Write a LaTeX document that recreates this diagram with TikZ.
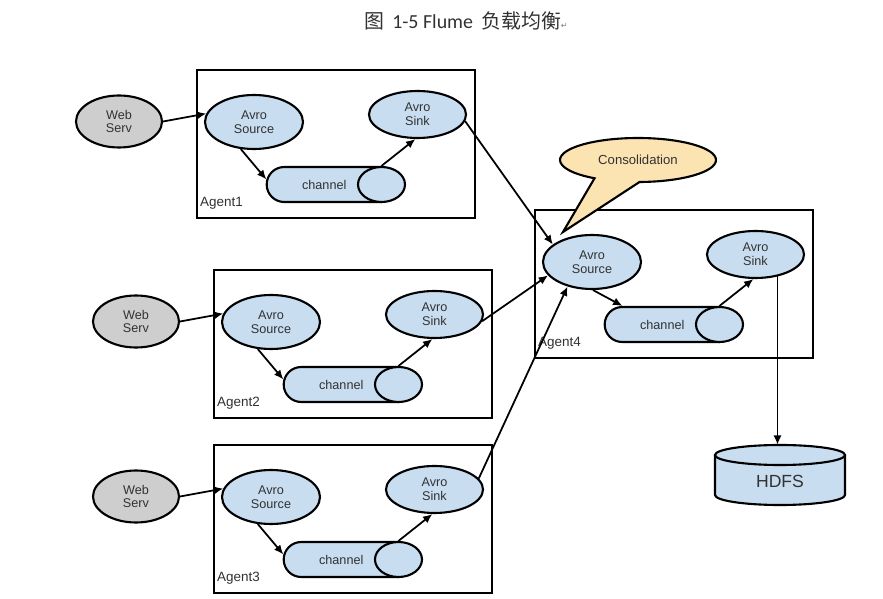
\documentclass[tikz,border=0pt]{standalone}
\usepackage{fontspec}
\setmainfont{Liberation Sans}
\newfontfamily\cjkfont{Noto Sans CJK SC}
\newfontfamily\carlfont{Carlito}
\newfontfamily\symfont{DejaVu Sans}
\usetikzlibrary{shapes.geometric,shapes.misc,shapes.callouts,arrows.meta}
\definecolor{avro}{RGB}{200,221,240}
\definecolor{websv}{RGB}{206,206,206}
\definecolor{cons}{RGB}{252,228,178}
\definecolor{txt}{RGB}{50,50,50}
\tikzset{
  shp/.style={draw=black, line width=1.8pt},
  lbl/.style={text=txt, font=\fontsize{10.8}{11.8}\selectfont, align=center, inner sep=0pt},
  web/.style={shp, lbl, ellipse, fill=websv, minimum width=2.58cm, minimum height=1.56cm},
  src/.style={shp, lbl, ellipse, fill=avro, minimum width=2.94cm, minimum height=1.62cm},
  snk/.style={shp, lbl, ellipse, fill=avro, minimum width=2.91cm, minimum height=1.41cm},
  chan/.style={shp, lbl, rounded rectangle, rounded rectangle east arc=none, fill=avro, minimum width=3.435cm, minimum height=1.05cm},
  chend/.style={shp, ellipse, fill=avro, minimum width=1.41cm, minimum height=1.05cm, inner sep=0pt},
  agentbox/.style={draw=black, line width=1.8pt, rectangle, minimum width=8.34cm, minimum height=4.44cm, inner sep=0pt},
  agentlbl/.style={text=txt, font=\fontsize{11.5}{13}\selectfont, inner sep=0pt, anchor=base west},
  arr/.style={draw=black, line width=1.5pt, -{Latex[length=8pt,width=7pt]}},
}
\newcommand\agentgroup[3]{%
  \begin{scope}[shift={(#2,#3)}]
    \node[agentbox] (a#1) at (336,144) {};
    \node[agentlbl] (l#1) at (200,207) {Agent#1};
    \node[src] (s#1) at (254,122) {Avro\\Source};
    \node[snk] (k#1) at (417.5,114.5) {Avro\\Sink};
    \node[chan] (c#1) at (324.25,184.5) {channel};
    \node[chend] (e#1) at (381.5,184.5) {};
    \draw[arr] (e#1.north) -- (k#1.-95);
  \end{scope}}
\begin{document}
\begin{tikzpicture}[x=0.03cm,y=-0.03cm]
\useasboundingbox[fill=white] (0,0) rectangle (883,599);
% title
\node[text=txt, inner sep=0pt] (title) at (466,21) {\fontsize{17}{19}\selectfont\cjkfont 图\hspace{7pt}\carlfont 1-5 Flume\hspace{7pt}\cjkfont 负载均衡{\symfont\fontsize{7}{8}\selectfont\color{gray}↵}};
% agents
\agentgroup{1}{0}{0}
\agentgroup{2}{17}{200}
\agentgroup{3}{17}{375}
\agentgroup{4}{338}{140}
\draw[arr] (s1.-116) -- (c1.175);
\draw[arr] (s2.-116) -- (c2.175);
\draw[arr] (s3.-116) -- (c3.175);
\draw[arr] (s4.-88) -- (c4.155);
% web servers
\node[web] (w1) at (119,121.5) {Web\\Serv};
\node[web] (w2) at (136,321.5) {Web\\Serv};
\node[web] (w3) at (136,496.5) {Web\\Serv};
\draw[arr] (w1.east) -- (s1.170);
\draw[arr] (w2.east) -- (s2.170);
\draw[arr] (w3.east) -- (s3.170);
% sinks to agent4
\draw[arr] (k1.-8) -- (s4.156);
\draw[arr] (k2.-8) -- (s4.197);
\draw[arr] (k3.14) -- (s4.-135);
% consolidation callout
\node[shp, lbl, ellipse callout, fill=cons, minimum width=4.68cm, minimum height=1.32cm,
  callout absolute pointer={(563,232)}, callout pointer arc=35,
  font=\fontsize{11.2}{13}\selectfont] (cons) at (638,160) {Consolidation};
% HDFS
\fill[avro] (715,455) rectangle (845,495);
\fill[avro] (780,495) ellipse[x radius=1.95cm, y radius=0.3cm];
\draw[shp] (715,455) -- (715,495) arc[start angle=180, end angle=360, x radius=1.95cm, y radius=0.3cm] -- (845,455);
\draw[shp, fill=avro] (780,455) ellipse[x radius=1.95cm, y radius=0.3cm];
\node[text=txt, inner sep=0pt, minimum width=3.9cm, minimum height=2.16cm, font=\fontsize{15}{17}\selectfont] (hdfs) at (780,481) {HDFS};
\draw[arr] (k4.-45) -- (k4.-45 |- hdfs.north);
\end{tikzpicture}
\end{document}
